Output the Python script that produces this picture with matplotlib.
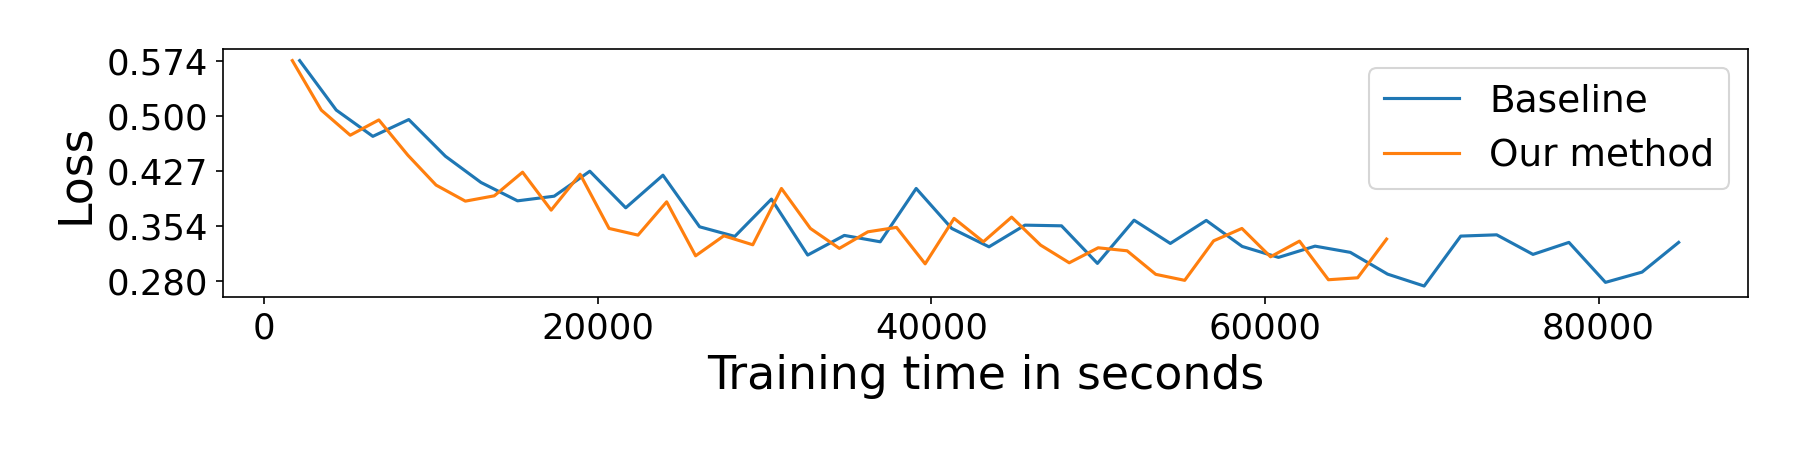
import numpy as np
import matplotlib
matplotlib.use('Agg')
import matplotlib.pyplot as plt

# Values.
baseline_time = [2136, 4330, 6523, 8677, 10872, 13006, 15197, 17393, 19529,
                 21682, 23914, 26110, 28222, 30417, 32589, 34785, 36939,
                 39093, 41224, 43459, 45613, 47805, 49958, 52154, 54328,
                 56482, 58636, 60812, 63003, 65118, 67350, 69544, 71737,
                 73891, 76068, 78222, 80412, 82606, 84800]
baseline_loss = [0.574, 0.508, 0.473, 0.4954, 0.4465, 0.4115, 0.387, 0.3932,
                 0.4265, 0.3777, 0.4212, 0.3524, 0.3396, 0.3893, 0.3147,
                 0.3409, 0.3324, 0.4035, 0.3502, 0.3257, 0.3546, 0.3537,
                 0.3036, 0.3612, 0.3302, 0.3609, 0.3262, 0.3116, 0.3266,
                 0.3183, 0.2893, 0.2734, 0.34, 0.3417, 0.3156, 0.3316,
                 0.2783, 0.292, 0.3316]

ours_time = [1697, 3432, 5168, 6883, 8620, 10313, 12068, 13803, 15498, 17213,
             18948, 20683, 22418, 24135, 25870, 27564, 29299, 31016, 32751,
             34486, 36198, 37914, 39631, 41366, 43119, 44815, 46550, 48267,
             50002, 51737, 53454, 55189, 56924, 58618, 60335, 62070, 63805,
             65556, 67291]
ours_loss = [0.574, 0.508, 0.4745, 0.4949, 0.4479, 0.408, 0.3866, 0.3937,
             0.4252, 0.3746, 0.4225, 0.3502, 0.3413, 0.3857, 0.3137, 0.3404,
             0.3284, 0.4035, 0.3502, 0.3236, 0.3457, 0.3516, 0.303, 0.3636,
             0.3324, 0.3653, 0.328, 0.3044, 0.3244, 0.3204, 0.289, 0.281,
             0.3337, 0.3502, 0.3124, 0.3333, 0.2818, 0.2844, 0.336]

y_ticks = np.linspace(0.280, 0.574, 5)
y_tick_labels = ['0.280', '0.354', '0.427', '0.500', '0.574']

fig, ax = plt.subplots(figsize=(12, 3), dpi=150)
fig.subplots_adjust(left=0.1239, right=0.9711, top=0.8904, bottom=0.3393)

ax.plot(baseline_time, baseline_loss, label='Baseline')
ax.plot(ours_time, ours_loss, label='Our method')

ax.set_yticks(y_ticks)
ax.set_yticklabels(y_tick_labels)
ax.tick_params(labelsize=17)
ax.set_xlabel('Training time in seconds', fontsize=22)
ax.set_ylabel('Loss', fontsize=22)
ax.legend(loc='upper right', fontsize=18)

fig.savefig('out.png', dpi=150)
